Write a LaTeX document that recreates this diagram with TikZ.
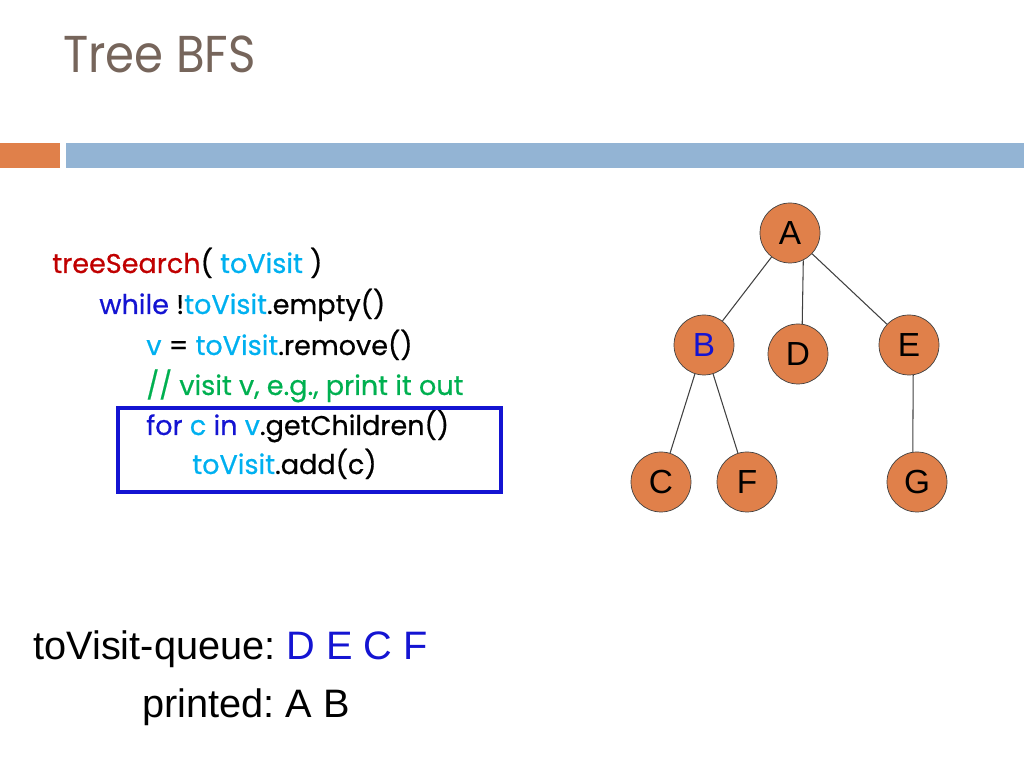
\documentclass[tikz,border=0pt]{standalone}
\usepackage{fontspec}
\setmainfont{Poppins}[FakeBold=0.6]
\newfontfamily\arialfont{Liberation Sans}
\newfontfamily\titlefont[FakeStretch=0.9]{Poppins}
\frenchspacing
\usepackage{tikz}
\usetikzlibrary{positioning,shapes}
\definecolor{slideorange}{RGB}{224,128,74}
\definecolor{slideblue}{RGB}{147,180,212}
\definecolor{titlegray}{RGB}{118,101,91}
\definecolor{fnred}{RGB}{192,0,0}
\definecolor{varblue}{RGB}{0,176,240}
\definecolor{kwblue}{RGB}{20,20,210}
\definecolor{cmtgreen}{RGB}{0,176,80}
\definecolor{edgegray}{RGB}{64,64,64}
\tikzstyle{treenode} = [circle, minimum size=1.2cm, inner sep=0pt, draw=edgegray, fill=slideorange, font=\arialfont\fontsize{19}{21}\selectfont]
\tikzstyle{codeline} = [anchor=base west, inner sep=0pt, font=\fontsize{15.4}{18}\selectfont]
\tikzstyle{edge} = [draw=edgegray, line width=0.6pt]
\newcommand{\fn}[1]{\textcolor{fnred}{#1}}
\newcommand{\vr}[1]{\textcolor{varblue}{#1}}
\newcommand{\kw}[1]{\textcolor{kwblue}{#1}}
\begin{document}
\begin{tikzpicture}
 \useasboundingbox (0,0) rectangle (20.48,15.36);
% header
 \node[anchor=base west, inner sep=0pt, text=titlegray, font=\titlefont\fontsize{29.5}{31}\selectfont] (title) at (1.26,13.90) {Tree BFS};
 \fill[slideorange] (0,12.00) rectangle (1.20,12.50);
 \fill[slideblue] (1.32,12.00) rectangle (20.48,12.50);
% code
 \node[codeline] (l1) at (1.04,9.90) {\fn{treeSearch}( \vr{toVisit} )};
 \node[codeline] (l2) at (1.98,9.08) {\kw{while} !\vr{toVisit}.empty()};
 \node[codeline] (l3) at (2.92,8.26) {\vr{v} = \vr{toVisit}.remove()};
 \node[codeline] (l4) at (2.92,7.46) {\textcolor{cmtgreen}{// visit v, e.g., print it out}};
 \node[codeline] (l5) at (2.92,6.66) {\kw{for} \vr{c} \kw{in} \vr{v}.getChildren()};
 \node[codeline] (l6) at (3.84,5.88) {\vr{toVisit}.add(c)};
 \node[draw=kwblue, line width=2pt, minimum width=7.66cm, minimum height=1.68cm] (loopbox) at (6.19,6.36) {};
% tree
 \node[treenode] (A) at (15.80,10.70) {A};
 \node[treenode] (B) at (A) [xshift=-1.72cm,yshift=-2.24cm] {\textcolor{kwblue}{B}};
 \node[treenode] (D) at (A) [xshift=0.16cm,yshift=-2.42cm] {D};
 \node[treenode] (E) at (A) [xshift=2.38cm,yshift=-2.24cm] {E};
 \node[treenode] (C) at (B) [xshift=-0.86cm,yshift=-2.74cm] {C};
 \node[treenode] (F) at (B) [xshift=0.86cm,yshift=-2.74cm] {F};
 \node[treenode] (G) at (E) [xshift=0.16cm,yshift=-2.74cm] {G};
% edges
 \draw[edge] (A) -- (B);
 \draw[edge] (A.-64) -- (D.82);
 \draw[edge] (A) -- (E);
 \draw[edge] (B) -- (C);
 \draw[edge] (B) -- (F);
 \draw[edge] (E.-82) -- (G.98);
% queue state
 \node[anchor=base west, inner sep=0pt, font=\arialfont\fontsize{22.6}{25}\selectfont] (queue) at (0.66,2.16)
      {toVisit-queue: \textcolor{kwblue}{D E C F}};
 \node[anchor=base west, inner sep=0pt, font=\arialfont\fontsize{22.6}{25}\selectfont] (printed) at (2.84,1.00)
      {printed: A B};
\end{tikzpicture}
\end{document}
